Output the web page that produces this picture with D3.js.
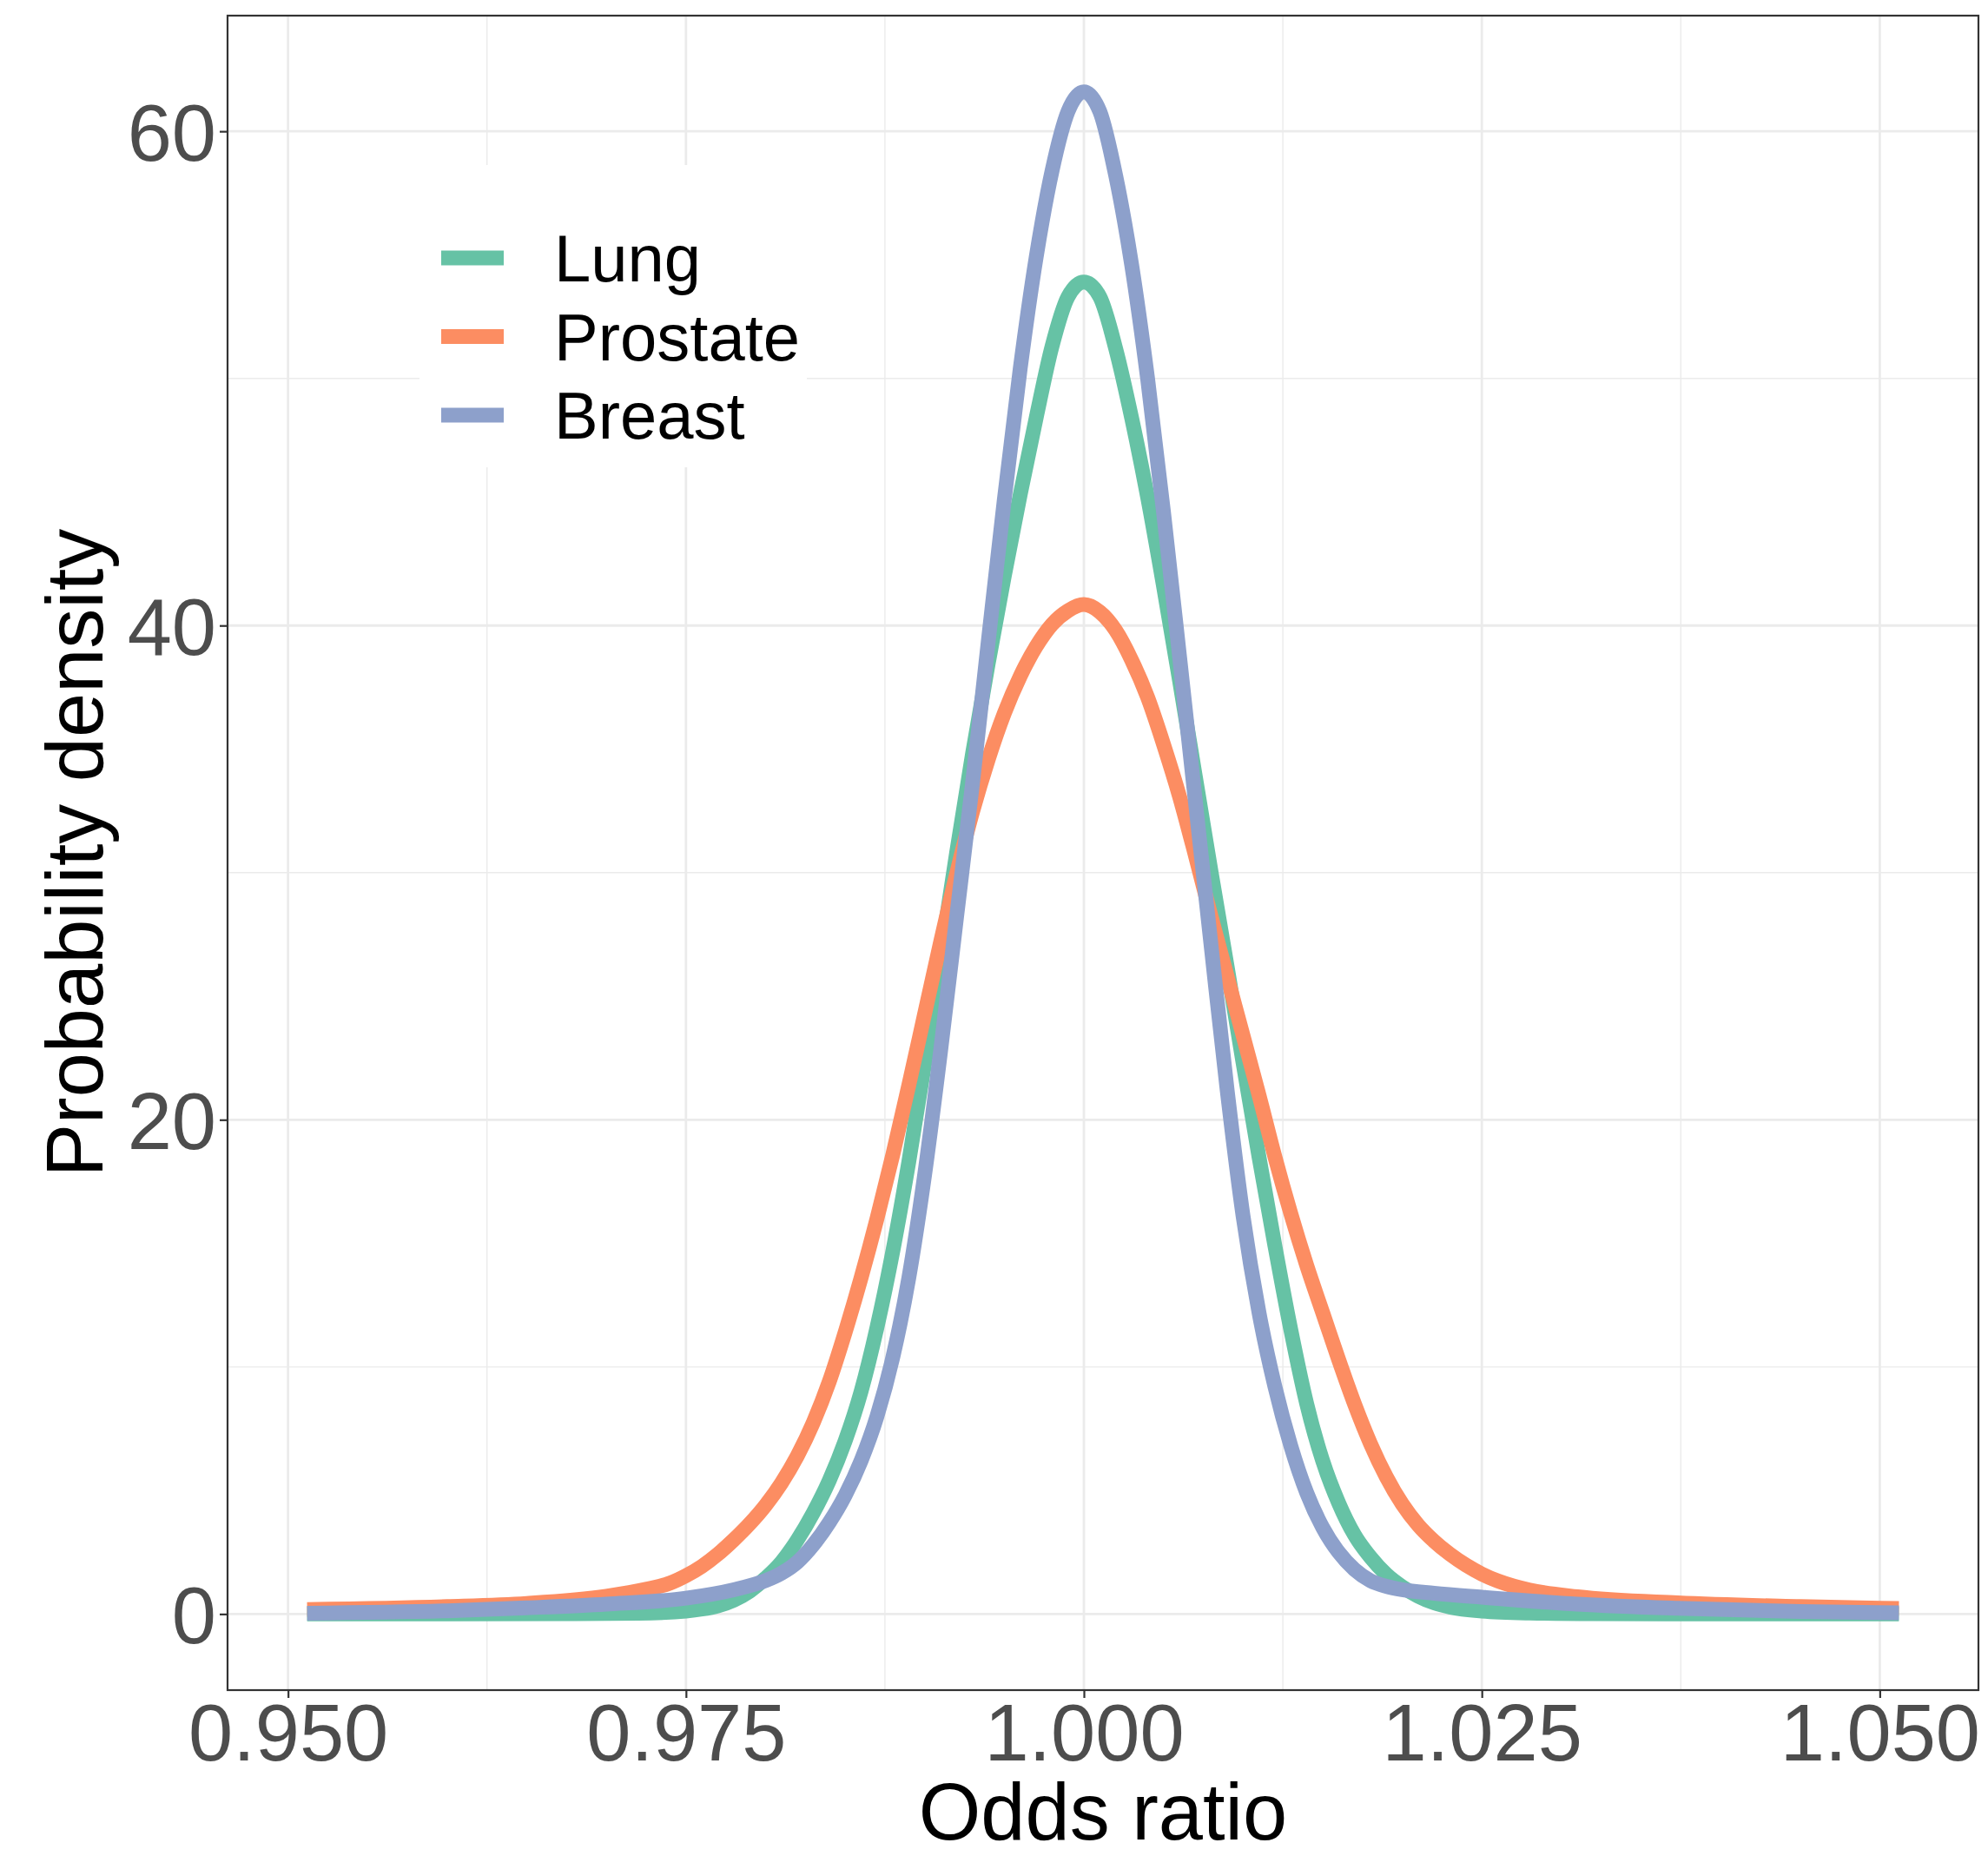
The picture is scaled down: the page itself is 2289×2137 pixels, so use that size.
<!DOCTYPE html>
<html>
<head>
<meta charset="utf-8">
<script src="https://cdn.jsdelivr.net/npm/d3@7"></script>
<style>
body { margin: 0; background: #ffffff; }
text { font-family: "Liberation Sans", Arial, Helvetica, sans-serif; }
</style>
</head>
<body>
<svg id="chart" width="2289" height="2137"></svg>
<script>
//
// data: odds ratio vs probability density
//

var seriesNames = ["Lung", "Prostate", "Breast"];
var seriesColors = ["#66C2A5", "#FC8D62", "#8DA0CB"];

var lung = [
	[0.9512, 0.0], [0.960, 0.0], [0.968, 0.01], [0.972, 0.03], [0.975, 0.12],
	[0.976, 0.2], [0.977, 0.33], [0.978, 0.56], [0.979, 0.92], [0.980, 1.45],
	[0.981, 2.1], [0.982, 3.0], [0.983, 4.1], [0.984, 5.4], [0.985, 7.0],
	[0.986, 9.0], [0.987, 11.6], [0.988, 14.7], [0.989, 18.3], [0.990, 22.3],
	[0.991, 26.6], [0.992, 30.8], [0.993, 34.8], [0.994, 38.5], [0.995, 42.0],
	[0.996, 45.3], [0.997, 48.4], [0.998, 51.3], [0.999, 53.3], [1.000, 53.9],
	[1.001, 53.3], [1.002, 51.2], [1.003, 48.4], [1.004, 45.2], [1.005, 41.6],
	[1.006, 37.8], [1.007, 33.9], [1.008, 30.0], [1.009, 26.2], [1.010, 22.3],
	[1.011, 18.5], [1.012, 14.9], [1.013, 11.5], [1.014, 8.5], [1.015, 6.2],
	[1.016, 4.5], [1.017, 3.2], [1.018, 2.3], [1.019, 1.6], [1.020, 1.1],
	[1.021, 0.72], [1.022, 0.45], [1.023, 0.28], [1.025, 0.12], [1.028, 0.04],
	[1.032, 0.01], [1.040, 0.0], [1.0512, 0.0]
];

var prostate = [
	[0.9512, 0.18], [0.960, 0.3], [0.965, 0.43], [0.970, 0.72], [0.9725, 1.0],
	[0.974, 1.25], [0.975, 1.55], [0.976, 1.93], [0.977, 2.42], [0.978, 3.0],
	[0.979, 3.65], [0.980, 4.4], [0.981, 5.3], [0.982, 6.4], [0.983, 7.75],
	[0.984, 9.4], [0.985, 11.4], [0.986, 13.6], [0.987, 16.0], [0.988, 18.6],
	[0.989, 21.4], [0.990, 24.3], [0.991, 27.2], [0.992, 29.95], [0.993, 32.45],
	[0.994, 34.6], [0.995, 36.45], [0.996, 37.95], [0.997, 39.15], [0.998, 40.05],
	[0.999, 40.6], [1.000, 40.85], [1.001, 40.55], [1.002, 39.8], [1.003, 38.6],
	[1.004, 37.1], [1.005, 35.2], [1.006, 33.1], [1.007, 30.7], [1.008, 28.2],
	[1.009, 25.8], [1.010, 23.4], [1.011, 21.0], [1.012, 18.5], [1.013, 16.2],
	[1.014, 14.1], [1.015, 12.2], [1.016, 10.3], [1.017, 8.5], [1.018, 6.9],
	[1.019, 5.55], [1.020, 4.45], [1.021, 3.6], [1.022, 2.95], [1.023, 2.42],
	[1.024, 1.98], [1.025, 1.62], [1.026, 1.34], [1.027, 1.13], [1.028, 0.97],
	[1.031, 0.7], [1.0373, 0.45], [1.045, 0.3], [1.0512, 0.22]
];

var breast = [
	[0.9512, 0.03], [0.960, 0.13], [0.965, 0.25], [0.970, 0.4], [0.975, 0.64],
	[0.978, 0.98], [0.980, 1.35], [0.981, 1.65], [0.982, 2.1], [0.983, 2.8],
	[0.984, 3.7], [0.985, 4.8], [0.986, 6.2], [0.987, 8.0], [0.988, 10.4],
	[0.989, 13.6], [0.990, 17.8], [0.991, 22.8], [0.992, 28.2], [0.993, 33.6],
	[0.994, 39.4], [0.995, 45.1], [0.996, 50.4], [0.997, 54.9], [0.998, 58.4],
	[0.999, 60.8], [1.000, 61.6], [1.001, 60.8], [1.002, 58.2], [1.003, 54.6],
	[1.004, 50.0], [1.005, 44.6], [1.006, 38.8], [1.007, 32.9], [1.008, 27.0],
	[1.009, 21.2], [1.010, 16.1], [1.011, 12.2], [1.012, 9.2], [1.013, 6.8],
	[1.014, 4.9], [1.015, 3.5], [1.016, 2.5], [1.017, 1.8], [1.018, 1.35],
	[1.019, 1.12], [1.020, 0.98], [1.022, 0.84], [1.025, 0.68], [1.031, 0.4],
	[1.0373, 0.23], [1.045, 0.1], [1.0512, 0.05]
];

var xTicks = [0.950, 0.975, 1.000, 1.025, 1.050];
var xMinor = [0.9625, 0.9875, 1.0125, 1.0375];
var yTicks = [0, 20, 40, 60];
var yMinor = [10, 30, 50];

var xTitle = "Odds ratio";
var yTitle = "Probability density";

//
// layout
//

var panel = { left: 262, right: 2278, top: 18, bottom: 1946 };

var svg = d3.select("#chart");

var xScale = d3.scaleLinear()
	.domain([0.9462, 1.0562])
	.range([panel.left, panel.right]);

var yScale = d3.scaleLinear()
	.domain([-3.08, 64.68])
	.range([panel.bottom, panel.top]);

function grid_lines(g, values, vertical, width)
{
	g.selectAll(null)
		.data(values)
		.enter()
		.append("line")
			.attr("x1", d => vertical ? xScale(d) : panel.left)
			.attr("x2", d => vertical ? xScale(d) : panel.right)
			.attr("y1", d => vertical ? panel.top : yScale(d))
			.attr("y2", d => vertical ? panel.bottom : yScale(d))
			.attr("stroke", "#EBEBEB")
			.attr("stroke-width", width);
}

function draw_grid()
{
	var g = svg.append("g").attr("class", "grid");

	grid_lines(g, xMinor, true, 1.4);
	grid_lines(g, yMinor, false, 1.4);
	grid_lines(g, xTicks, true, 2.8);
	grid_lines(g, yTicks, false, 2.8);
}

function draw_curves()
{
	var line = d3.line()
		.x(d => xScale(d[0]))
		.y(d => yScale(d[1]))
		.curve(d3.curveMonotoneX);

	var all = [lung, prostate, breast];

	svg.append("g").attr("class", "curves")
		.selectAll("path")
		.data(all)
		.enter()
		.append("path")
			.attr("d", line)
			.attr("fill", "none")
			.attr("stroke", (d, i) => seriesColors[i])
			.attr("stroke-width", 17)
			.attr("stroke-linejoin", "round")
			.attr("stroke-linecap", "butt");
}

function draw_axes()
{
	// panel border
	svg.append("rect")
		.attr("x", panel.left)
		.attr("y", panel.top)
		.attr("width", panel.right - panel.left)
		.attr("height", panel.bottom - panel.top)
		.attr("fill", "none")
		.attr("stroke", "#333333")
		.attr("stroke-width", 2.2);

	// x axis ticks + labels
	var xAxis = d3.axisBottom(xScale)
		.tickValues(xTicks)
		.tickSize(9)
		.tickPadding(0)
		.tickFormat(d3.format(".3f"));

	var gx = svg.append("g")
		.attr("transform", "translate(0," + panel.bottom + ")")
		.call(xAxis);
	gx.select(".domain").remove();
	gx.selectAll(".tick line")
		.attr("stroke", "#333333")
		.attr("stroke-width", 2.2);
	gx.selectAll(".tick text")
		.attr("fill", "#4D4D4D")
		.attr("font-size", 92)
		.attr("dy", null)
		.attr("y", 81);

	// y axis ticks + labels
	var yAxis = d3.axisLeft(yScale)
		.tickValues(yTicks)
		.tickSize(9)
		.tickPadding(0)
		.tickFormat(d3.format("d"));

	var gy = svg.append("g")
		.attr("transform", "translate(" + panel.left + ",0)")
		.call(yAxis);
	gy.select(".domain").remove();
	gy.selectAll(".tick line")
		.attr("stroke", "#333333")
		.attr("stroke-width", 2.2);
	gy.selectAll(".tick text")
		.attr("fill", "#4D4D4D")
		.attr("font-size", 92)
		.attr("x", -13)
		.attr("dy", "0.36em");

	// titles
	svg.append("text")
		.attr("x", (panel.left + panel.right) / 2)
		.attr("y", 2118)
		.attr("text-anchor", "middle")
		.attr("font-size", 92)
		.attr("fill", "#000000")
		.text(xTitle);

	svg.append("text")
		.attr("transform", "translate(118," + ((panel.top + panel.bottom) / 2) + ") rotate(-90)")
		.attr("text-anchor", "middle")
		.attr("font-size", 92)
		.attr("fill", "#000000")
		.text(yTitle);
}

function draw_legend()
{
	var box = { x: 483, y: 190, w: 446, h: 348 };
	var firstKey = 297;
	var spacing = 90.5;

	var g = svg.append("g").attr("class", "legend");

	g.append("rect")
		.attr("x", box.x)
		.attr("y", box.y)
		.attr("width", box.w)
		.attr("height", box.h)
		.attr("fill", "#ffffff");

	var items = g.selectAll("g.item")
		.data(seriesNames)
		.enter()
		.append("g")
			.attr("class", "item")
			.attr("transform", (d, i) => "translate(0," + (firstKey + i * spacing) + ")");

	items.append("line")
		.attr("x1", 508)
		.attr("x2", 580)
		.attr("y1", 0)
		.attr("y2", 0)
		.attr("stroke", (d, i) => seriesColors[i])
		.attr("stroke-width", 17);

	items.append("text")
		.attr("x", 638)
		.attr("y", 0)
		.attr("dy", "0.36em")
		.attr("font-size", 76)
		.attr("fill", "#000000")
		.text(d => d);
}

draw_grid();
draw_legend();
draw_curves();
draw_axes();
</script>
</body>
</html>
